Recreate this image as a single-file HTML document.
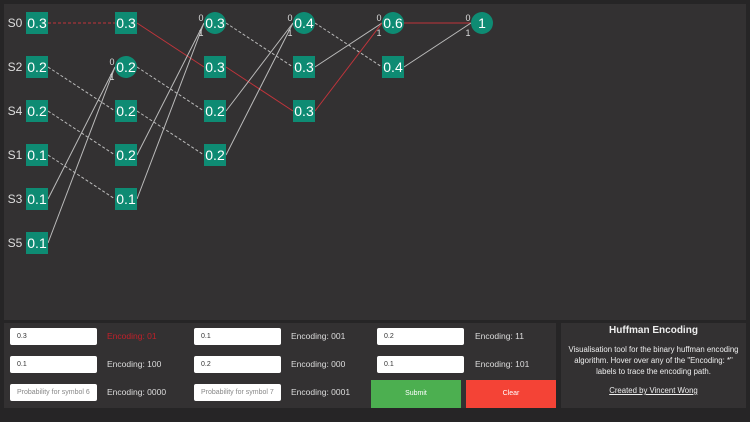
<!DOCTYPE html>
<html><head><style>
body{margin:0;width:750px;height:422px;background:#262526;font-family:"Liberation Sans",sans-serif;position:relative;overflow:hidden}
.p{position:absolute;background:#333132}
.in{position:absolute;background:#fff;border-radius:2px;width:87px;height:17px;font-size:7px;color:#333;line-height:17px;padding-left:7px;box-sizing:border-box}
.ph{color:#888}
.lb{position:absolute;font-size:8.5px;color:#ddd;line-height:17px}
svg text{font-family:"Liberation Sans",sans-serif}
</style></head><body>
<div class="p" style="left:4px;top:4px;width:742px;height:316px"></div>
<div class="p" style="left:4px;top:323px;width:552px;height:85px"></div>
<div class="p" style="left:561px;top:323px;width:185px;height:85px"></div>
<svg width="750" height="320" style="position:absolute;left:0;top:0">
<g stroke-width="1" fill="none">
<line x1="48" y1="23" x2="115" y2="23" stroke="#c0343b" stroke-dasharray="3,2"/>
<line x1="48" y1="67" x2="115" y2="111" stroke="#bbb" stroke-dasharray="3,2"/>
<line x1="48" y1="111" x2="115" y2="155" stroke="#bbb" stroke-dasharray="3,2"/>
<line x1="48" y1="155" x2="115" y2="199" stroke="#bbb" stroke-dasharray="3,2"/>
<line x1="48" y1="199" x2="115" y2="67" stroke="#bbb"/>
<line x1="48" y1="243" x2="115" y2="67" stroke="#bbb"/>
<line x1="137" y1="23" x2="204" y2="67" stroke="#c0343b"/>
<line x1="137" y1="67" x2="204" y2="111" stroke="#bbb" stroke-dasharray="3,2"/>
<line x1="137" y1="111" x2="204" y2="155" stroke="#bbb" stroke-dasharray="3,2"/>
<line x1="137" y1="155" x2="204" y2="23" stroke="#bbb"/>
<line x1="137" y1="199" x2="204" y2="23" stroke="#bbb"/>
<line x1="226" y1="23" x2="293" y2="67" stroke="#bbb" stroke-dasharray="3,2"/>
<line x1="226" y1="67" x2="293" y2="111" stroke="#c0343b"/>
<line x1="226" y1="111" x2="293" y2="23" stroke="#bbb"/>
<line x1="226" y1="155" x2="293" y2="23" stroke="#bbb"/>
<line x1="315" y1="23" x2="382" y2="67" stroke="#bbb" stroke-dasharray="3,2"/>
<line x1="315" y1="67" x2="382" y2="23" stroke="#bbb"/>
<line x1="315" y1="111" x2="382" y2="23" stroke="#c0343b"/>
<line x1="404" y1="23" x2="471" y2="23" stroke="#c0343b"/>
<line x1="404" y1="67" x2="471" y2="23" stroke="#bbb"/>
</g>
<g fill="#0e8b73">
<rect x="26" y="12" width="22" height="22"/><rect x="26" y="56" width="22" height="22"/><rect x="26" y="100" width="22" height="22"/><rect x="26" y="144" width="22" height="22"/><rect x="26" y="188" width="22" height="22"/><rect x="26" y="232" width="22" height="22"/>
<rect x="115" y="12" width="22" height="22"/><circle cx="126" cy="67" r="11"/><rect x="115" y="100" width="22" height="22"/><rect x="115" y="144" width="22" height="22"/><rect x="115" y="188" width="22" height="22"/>
<circle cx="215" cy="23" r="11"/><rect x="204" y="56" width="22" height="22"/><rect x="204" y="100" width="22" height="22"/><rect x="204" y="144" width="22" height="22"/>
<circle cx="304" cy="23" r="11"/><rect x="293" y="56" width="22" height="22"/><rect x="293" y="100" width="22" height="22"/>
<circle cx="393" cy="23" r="11"/><rect x="382" y="56" width="22" height="22"/>
<circle cx="482" cy="23" r="11"/>
</g>
<g fill="#fff" font-size="14" text-anchor="middle">
<text x="37" y="28">0.3</text><text x="37" y="72">0.2</text><text x="37" y="116">0.2</text><text x="37" y="160">0.1</text><text x="37" y="204">0.1</text><text x="37" y="248">0.1</text>
<text x="126" y="28">0.3</text><text x="126" y="72">0.2</text><text x="126" y="116">0.2</text><text x="126" y="160">0.2</text><text x="126" y="204">0.1</text>
<text x="215" y="28">0.3</text><text x="215" y="72">0.3</text><text x="215" y="116">0.2</text><text x="215" y="160">0.2</text>
<text x="304" y="28">0.4</text><text x="304" y="72">0.3</text><text x="304" y="116">0.3</text>
<text x="393" y="28">0.6</text><text x="393" y="72">0.4</text>
<text x="482" y="28">1</text>
</g>
<g fill="#ddd" font-size="12" text-anchor="middle">
<text x="15" y="27">S0</text><text x="15" y="71">S2</text><text x="15" y="115">S4</text><text x="15" y="159">S1</text><text x="15" y="203">S3</text><text x="15" y="247">S5</text>
</g>
<g fill="#ddd" font-size="9" text-anchor="middle">
<text x="112" y="65">0</text><text x="112" y="80">1</text>
<text x="201" y="21">0</text><text x="201" y="36">1</text>
<text x="290" y="21">0</text><text x="290" y="36">1</text>
<text x="379" y="21">0</text><text x="379" y="36">1</text>
<text x="468" y="21">0</text><text x="468" y="36">1</text>
</g>
</svg>
<div class="in" style="left:10px;top:328px">0.3</div><div class="lb" style="left:107px;top:328px;color:#c0202a">Encoding: 01</div>
<div class="in" style="left:10px;top:356px">0.1</div><div class="lb" style="left:107px;top:356px">Encoding: 100</div>
<div class="in ph" style="left:10px;top:384px">Probability for symbol 6</div><div class="lb" style="left:107px;top:384px">Encoding: 0000</div>
<div class="in" style="left:194px;top:328px">0.1</div><div class="lb" style="left:291px;top:328px">Encoding: 001</div>
<div class="in" style="left:194px;top:356px">0.2</div><div class="lb" style="left:291px;top:356px">Encoding: 000</div>
<div class="in ph" style="left:194px;top:384px">Probability for symbol 7</div><div class="lb" style="left:291px;top:384px">Encoding: 0001</div>
<div class="in" style="left:377px;top:328px">0.2</div><div class="lb" style="left:475px;top:328px">Encoding: 11</div>
<div class="in" style="left:377px;top:356px">0.1</div><div class="lb" style="left:475px;top:356px">Encoding: 101</div>
<div style="position:absolute;left:371px;top:380px;width:90px;height:28px;background:#4caf50;color:#fff;font-size:7px;text-align:center;line-height:28px">Submit</div>
<div style="position:absolute;left:466px;top:380px;width:90px;height:28px;background:#f44336;color:#fff;font-size:7px;text-align:center;line-height:28px">Clear</div>
<div style="position:absolute;left:561px;top:323px;width:185px;text-align:center;color:#eee">
<div style="font-size:10px;font-weight:bold;margin-top:2px">Huffman Encoding</div>
<div style="font-size:7.8px;line-height:11px;margin-top:8px;padding:0 4px">Visualisation tool for the binary huffman encoding algorithm. Hover over any of the "Encoding: *" labels to trace the encoding path.</div>
<div style="font-size:7.8px;text-decoration:underline;margin-top:9px">Created by Vincent Wong</div>
</div>
</body></html>
